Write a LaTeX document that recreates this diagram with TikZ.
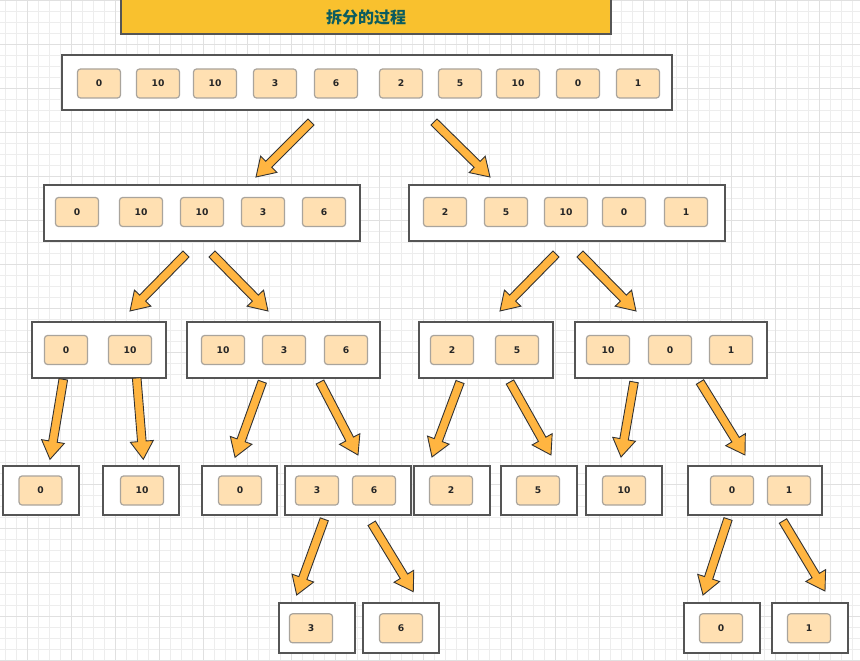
\documentclass[tikz,border=0pt]{standalone}
\usepackage{fontspec}
\setmainfont{DejaVu Sans}
\newfontfamily\cjk{Noto Sans CJK SC}
\definecolor{gridminor}{HTML}{EDEDED}
\definecolor{gridmajor}{HTML}{E0E0E0}
\definecolor{titlefill}{HTML}{F9C12E}
\definecolor{titletext}{HTML}{0B5C5F}
\definecolor{cellfill}{HTML}{FFE0B2}
\definecolor{celldraw}{HTML}{A9A49C}
\definecolor{boxdraw}{HTML}{555555}
\definecolor{arrowfill}{HTML}{FFB541}
\definecolor{arrowdraw}{HTML}{333333}
\tikzset{
  cell/.style={draw=celldraw, fill=cellfill, line width=1.2pt, rounded corners=3pt,
    minimum width=43pt, minimum height=29pt, inner sep=0pt,
    font=\fontsize{9.2}{9.2}\selectfont\bfseries, text=black!85},
  box/.style={draw=boxdraw, fill=white, line width=1.7pt, inner sep=0pt},
  blockarrow/.style={fill=arrowfill, draw=arrowdraw, line width=0.9pt, line join=miter},
  titlebox/.style={draw=boxdraw, fill=titlefill, line width=1.2pt, inner sep=0pt}
}
\newcommand\barrow[4]{%
  \pgfmathsetmacro\bdx{#3-#1}%
  \pgfmathsetmacro\bdy{#4-#2}%
  \pgfmathsetmacro\bang{atan2(-\bdy,\bdx)}%
  \pgfmathsetmacro\blen{veclen(\bdx,\bdy)}%
  \draw[blockarrow, shift={(#1,#2)}, rotate=\bang]
    (0,-4.3) -- ({\blen-18},-4.3) -- ({\blen-18},-11.5) -- (\blen,0)
    -- ({\blen-18},11.5) -- ({\blen-18},4.3) -- (0,4.3) -- cycle;
}
\begin{document}
\begin{tikzpicture}[x=1pt,y=-1pt]
\useasboundingbox (0,0) rectangle (860,661);
\fill[white] (0,0) rectangle (860,661);
% grid
\foreach \i in {0,...,77} \draw[gridminor, line width=0.7pt] ({5.7+11*\i},0) -- ++(0,661);
\foreach \i in {0,...,60} \draw[gridminor, line width=0.7pt] (0,{0.7+11*\i}) -- ++(860,0);
\foreach \i in {0,...,18} \draw[gridmajor, line width=0.8pt] ({27.7+44*\i},0) -- ++(0,661);
\foreach \i in {0,...,15} \draw[gridmajor, line width=0.8pt] (0,{0.7+44*\i}) -- ++(860,0);

% title
\node[titlebox, minimum width=490pt, minimum height=38pt] (title) at (366,15) {};
\node[font=\cjk\bfseries\fontsize{16}{16}\selectfont, text=titletext] (titletxt) at (366,17) {拆分的过程};

% level 0
\node[box, minimum width=610pt, minimum height=55pt] (L0) at (367,82.5) {};
\foreach \x/\t [count=\i] in {99/0,158/10,215/10,275/3,336/6,401/2,460/5,518/10,578/0,638/1}
  \node[cell] (c0-\i) at (\x,83.5) {\t};

% level 1
\node[box, minimum width=316pt, minimum height=56pt] (L1a) at (202,213) {};
\node[box, minimum width=316pt, minimum height=56pt] (L1b) at (567,213) {};
\foreach \x/\t [count=\i] in {77/0,141/10,202/10,263/3,324/6}
  \node[cell] (c1a-\i) at (\x,212) {\t};
\foreach \x/\t [count=\i] in {445/2,506/5,566/10,624/0,686/1}
  \node[cell] (c1b-\i) at (\x,212) {\t};

% level 2
\node[box, minimum width=134pt, minimum height=56pt] (L2a) at (99,350) {};
\node[box, minimum width=193pt, minimum height=56pt] (L2b) at (283.5,350) {};
\node[box, minimum width=134pt, minimum height=56pt] (L2c) at (486,350) {};
\node[box, minimum width=192pt, minimum height=56pt] (L2d) at (671,350) {};
\foreach \x/\t [count=\i] in {66/0,130/10}
  \node[cell] (c2a-\i) at (\x,350) {\t};
\foreach \x/\t [count=\i] in {223/10,284/3,346/6}
  \node[cell] (c2b-\i) at (\x,350) {\t};
\foreach \x/\t [count=\i] in {452/2,517/5}
  \node[cell] (c2c-\i) at (\x,350) {\t};
\foreach \x/\t [count=\i] in {608/10,670/0,731/1}
  \node[cell] (c2d-\i) at (\x,350) {\t};

% level 3
\foreach \cx/\w [count=\i] in {41/76,141/76,239.5/75,348/126,452/76,539/76,624/76,755/134}
  \node[box, minimum width=\w pt, minimum height=49pt] (L3-\i) at (\cx,490.5) {};
\foreach \x/\t [count=\i] in {40.5/0,142/10,240/0,317/3,374/6,451/2,538/5,624/10,732/0,789/1}
  \node[cell] (c3-\i) at (\x,490.5) {\t};

% level 4
\foreach \cx [count=\i] in {317,401,722,810}
  \node[box, minimum width=76pt, minimum height=50pt] (L4-\i) at (\cx,628) {};
\foreach \x/\t [count=\i] in {311/3,401/6,721/0,809/1}
  \node[cell] (c4-\i) at (\x,628.3) {\t};

% arrows
\barrow{311}{122}{256}{177}
\barrow{434}{122}{490}{177}
\barrow{186}{254}{130}{311}
\barrow{212}{254}{268}{311}
\barrow{556}{254}{500}{311}
\barrow{580}{254}{636}{311}
\barrow{63.3}{379.3}{50}{459.3}
\barrow{136.7}{378}{143.3}{459.3}
\barrow{262.3}{381.7}{235}{457.3}
\barrow{320}{382}{358}{455}
\barrow{460}{382}{432}{457}
\barrow{510}{382}{551}{455}
\barrow{634}{382}{621}{457}
\barrow{700}{382}{745}{455}
\barrow{324.3}{519.3}{296.7}{595}
\barrow{371.7}{523.3}{413.3}{591.7}
\barrow{728}{519}{703}{595}
\barrow{783}{521}{825}{591}
\end{tikzpicture}
\end{document}
